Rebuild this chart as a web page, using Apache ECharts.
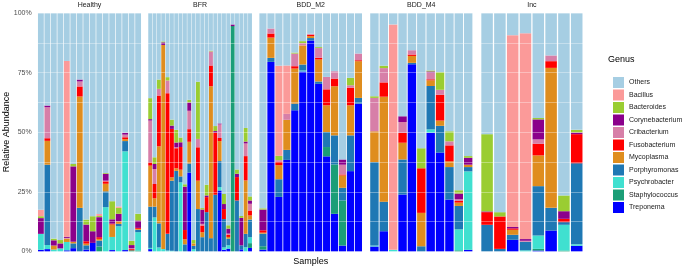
<!DOCTYPE html>
<html>
<head>
<meta charset="utf-8">
<script src="https://cdn.jsdelivr.net/npm/echarts@6/dist/echarts.min.js"></script>
<style>
  html, body { margin: 0; padding: 0; background: #fff; }
  #chart { width: 685px; height: 269px; }
</style>
</head>
<body>
<div id="chart"></div>
<script>
// facet names and genus order (legend order, top of stack first)
const facets = ['Healthy', 'BFR', 'BDD_M2', 'BDD_M4', 'Inc'];
const genera = ['Others', 'Bacillus', 'Bacteroides', 'Corynebacterium', 'Cribacterium',
  'Fusobacterium', 'Mycoplasma', 'Porphyromonas', 'Psychrobacter', 'Staphylococcus', 'Treponema'];
const yTicks = [0, 25, 50, 75, 100];

// relative abundance (%) per sample, one inner array per facet
const bacillus = [
  [2.7, 0, 0, 0, 73.7, 0, 0, 0, 0, 0.8, 0, 0, 0.6, 0, 0, 0],
  [0, 0, 0, 0, 0, 0, 0, 0, 0, 0, 0, 0, 0, 0, 0, 0, 0, 0, 0, 0, 0, 0, 0, 0],
  [0, 0, 37.8, 20.3, 0, 0, 0, 0, 0, 0, 0, 0, 0],
  [0, 0, 94.5, 0, 0, 0, 0, 0, 0, 0, 0],
  [0, 0, 80.4, 86.3, 0, 0, 0, 0]
];
const bacteroides = [
  [0.8, 0, 0.7, 1.4, 0, 1, 0, 2.1, 6.3, 0.5, 0.3, 7.6, 2.5, 0, 1.8, 2.8],
  [8.8, 2.8, 3.9, 0.4, 1.4, 2.5, 5.3, 2, 1, 1.1, 1.4, 24, 0.6, 4.5, 0.3, 2.1, 0, 4.2, 1.4, 0, 1.8, 0.8, 5.7, 1.7],
  [0.5, 0, 1.8, 0, 0.4, 0.8, 0, 0.4, 0, 0, 0, 3.1, 0],
  [0.7, 1, 0, 0, 0, 8.4, 0.4, 7.4, 4.2, 1.4, 0.7],
  [32.4, 1.8, 0, 0, 0.6, 0, 6.6, 1.1]
];
const corynebacterium = [
  [6.6, 0.7, 2.2, 2.1, 0.5, 31.6, 0.8, 7, 4.9, 8.4, 2.9, 1.8, 3.1, 0.8, 1.3, 3.1],
  [0.6, 2.1, 0, 1.1, 0, 1.4, 2, 2, 18.2, 3.5, 0, 0, 6, 0.7, 0, 0.7, 0.4, 2.1, 2.1, 0.7, 1.4, 11.5, 0.8, 1.4],
  [8.7, 0, 0, 0, 0, 0, 0, 0, 0, 0, 2.2, 0, 0],
  [0, 0, 0, 2.4, 0, 0, 0.5, 0, 0, 2.4, 2.9],
  [0.3, 0, 0.6, 0.7, 8.4, 0, 3.2, 0.7]
];
const cribacterium = [
  [0, 13, 0, 0, 0.3, 0, 2.1, 0, 0, 0, 0.3, 0, 0, 1.1, 0.4, 0],
  [17.5, 6.3, 2.8, 0, 5.3, 0, 0.4, 0, 0, 7.7, 0, 3.5, 0.7, 0, 5.9, 0, 5.7, 0, 0.4, 0, 0, 0, 5.3, 2.8],
  [0, 2.1, 0.7, 2.5, 5.3, 1, 0.4, 4.1, 5.2, 3.1, 4.1, 1, 2.8],
  [14, 6, 0, 4.6, 1.8, 0, 2.8, 2.1, 1.7, 0.7, 0],
  [0, 0, 0, 0.4, 1.8, 2.4, 0, 0]
];
const fusobacterium = [
  [0, 1.1, 0, 0, 0, 0, 4.2, 1, 0, 0.7, 1, 0.4, 0, 0.8, 0.5, 0.4],
  [1.4, 6, 21.3, 0, 59, 20.3, 8.4, 9.5, 3.9, 5.3, 0, 14, 2.8, 6.3, 8.7, 26, 1.3, 4.2, 1, 0, 9.8, 0, 10.2, 2.1],
  [1, 1.7, 1.4, 0, 1, 0, 0.6, 0.7, 6.7, 3.2, 0.4, 7.4, 0.4],
  [0, 6, 0, 4.1, 0.6, 18.7, 0.4, 10.8, 6.7, 0.7, 0],
  [5.3, 13.6, 0.6, 0, 4.9, 2.8, 1.4, 12.2]
];
const mycoplasma = [
  [0, 10, 1.7, 0, 1.4, 0.7, 46.7, 0.7, 0, 0.7, 3.2, 5.2, 1.1, 0.8, 0, 0.4],
  [17.2, 3.5, 32.3, 85.6, 0, 1.4, 1.1, 2.8, 2.1, 9.1, 1, 11.9, 2.1, 0, 63.7, 0, 8.4, 0, 0.7, 0, 0, 0, 22.4, 1.7],
  [0.4, 8.5, 5.9, 12.6, 14.7, 8, 0.8, 9.2, 11.2, 20.6, 5.2, 12.6, 15.4],
  [12.9, 44, 0, 7, 2.9, 14, 2.4, 2.2, 2.4, 1.4, 1],
  [0, 0, 2.1, 0, 12.9, 58.7, 0, 0]
];
const porphyromonas = [
  [0, 33.7, 0, 0, 0, 2, 18.3, 1.8, 0, 2.5, 6.6, 0, 1, 4.3, 0, 1],
  [17.3, 4.5, 10.1, 0, 7, 29.4, 33.8, 2.5, 3, 3.8, 1.4, 17.8, 6, 16.5, 5.6, 23.8, 10.9, 11.9, 2.8, 0, 21.4, 1.7, 5.6, 7.4],
  [5.3, 1.7, 7.4, 4.2, 2.8, 2.5, 1, 1, 6.3, 12.2, 5.3, 15, 2.4],
  [35, 12.4, 0, 14.7, 0.6, 2.2, 18.2, 11.2, 13.6, 9.8, 1.8],
  [11.2, 1.1, 2.1, 3.6, 20.7, 9.5, 1.1, 34]
];
const psychrobacter = [
  [6.7, 1.7, 0.8, 1.3, 3.5, 0, 0, 0, 0, 0, 18.6, 5.5, 10.6, 41.4, 0, 7.7],
  [0.5, 14.3, 1.7, 1, 0.4, 0.3, 0, 29, 0, 0, 1, 0, 0, 0, 0, 0, 1.4, 1, 1.4, 0, 0, 0, 1.8, 2.5],
  [0, 0, 0, 0, 0, 0.4, 0, 0, 0, 0, 0, 0, 0],
  [0.4, 0, 0.7, 0, 0, 0, 1.4, 0, 0, 8.8, 32.9],
  [0, 0, 0, 0.5, 5.6, 0, 10.8, 0.6]
];
const staphylococcus = [
  [0, 0, 0, 0, 0, 0, 0, 0, 0, 2.1, 0, 0, 0, 0, 0.5, 0.4],
  [0, 0, 0, 0, 0, 0, 0, 0, 0, 0, 0, 0, 0, 0, 0, 0, 0, 0, 0, 94.5, 0, 0, 0, 2],
  [1.4, 0, 0, 0, 0, 0, 0, 0, 3.9, 20.7, 18.9, 0, 0],
  [0, 0, 0, 0, 0, 0, 0, 0, 0, 0.5, 0],
  [0, 0, 0, 0, 0.7, 0, 0.4, 0]
];
const treponema = [
  [0.7, 1, 0, 0, 0.5, 1.4, 0, 0.8, 3.6, 0, 0, 0.6, 0, 0.6, 0, 0],
  [1, 0, 0, 0, 0, 0, 0, 0, 0, 33.1, 0, 0, 0, 0, 0, 0, 25.6, 0.7, 1.2, 0, 0, 0.9, 0, 1.5],
  [0.8, 79.5, 22.9, 38.4, 59.2, 75.5, 88.5, 70.3, 39.9, 15.8, 2.5, 33.7, 62],
  [2.1, 8.5, 0, 23.9, 78.5, 0, 49.8, 41.5, 21.8, 0, 0.7],
  [0, 0, 4.9, 0, 0.4, 8.8, 0, 2.4]
];

const genusData = {
  Bacillus: bacillus, Bacteroides: bacteroides, Corynebacterium: corynebacterium,
  Cribacterium: cribacterium, Fusobacterium: fusobacterium, Mycoplasma: mycoplasma,
  Porphyromonas: porphyromonas, Psychrobacter: psychrobacter,
  Staphylococcus: staphylococcus, Treponema: treponema
};
const colors = {
  Others: '#A6CEE3', Bacillus: '#FB9A99', Bacteroides: '#9ACD32', Corynebacterium: '#8B008B',
  Cribacterium: '#D77FA8', Fusobacterium: '#FF0000', Mycoplasma: '#DF8D1E',
  Porphyromonas: '#1F78B4', Psychrobacter: '#40E0D0', Staphylococcus: '#1B9E77', Treponema: '#0000FF'
};

// "Others" is whatever is left up to 100%
const others = facets.map((f, i) => treponema[i].map((_, j) => {
  let s = 0;
  Object.keys(genusData).forEach(g => { s += genusData[g][i][j]; });
  return Math.max(0, +(100 - s).toFixed(2));
}));
genusData.Others = others;

const font = 'Liberation Sans, Arial, sans-serif';
const panelW = 105, panelStep = 110.6, firstLeft = 37;
const plotTop = 13, plotH = 238.5;

const grids = [], xAxes = [], yAxes = [], series = [], texts = [];
facets.forEach((name, i) => {
  const n = treponema[i].length;
  const unit = panelW / (n + 0.2);
  const pl = firstLeft + i * panelStep;
  grids.push({left: pl + 0.1 * unit, top: plotTop, width: n * unit, height: plotH});
  xAxes.push({
    type: 'category', gridIndex: i, data: treponema[i].map((_, j) => name + '_' + (j + 1)),
    axisLine: {show: false}, axisTick: {show: false}, axisLabel: {show: false}
  });
  yAxes.push({
    type: 'value', gridIndex: i, min: 0, max: 100, interval: 12.5, z: 5,
    axisLine: {show: false}, axisTick: {show: false},
    axisLabel: {
      show: i === 0, margin: 6, fontSize: 7, color: '#4d4d4d', fontFamily: font,
      formatter: v => yTicks.indexOf(v) >= 0 ? v + '%' : ''
    },
    splitLine: {lineStyle: {color: 'rgba(255,255,255,0.35)', width: 1}}
  });
  // bottom of stack first
  genera.slice().reverse().forEach(g => {
    series.push({
      type: 'bar', name: g, xAxisIndex: i, yAxisIndex: i, stack: 'f' + i,
      barCategoryGap: '10%', data: genusData[g][i],
      itemStyle: {color: colors[g]}, emphasis: {disabled: true}, silent: true
    });
  });
  texts.push({
    type: 'text', x: pl + panelW / 2, y: 5,
    style: {text: name, fontSize: 7, fill: '#1a1a1a', fontFamily: font, align: 'center', verticalAlign: 'middle'}
  });
});

texts.push({
  type: 'text', x: firstLeft + (4 * panelStep + panelW) / 2, y: 262,
  style: {text: 'Samples', fontSize: 9, fill: '#000', fontFamily: font, align: 'center', verticalAlign: 'middle'}
});
texts.push({
  type: 'text', x: 7, y: 132, rotation: Math.PI / 2,
  style: {text: 'Relative Abundance', fontSize: 9, fill: '#000', fontFamily: font, align: 'center', verticalAlign: 'middle'}
});
texts.push({
  type: 'text', x: 608, y: 60,
  style: {text: 'Genus', fontSize: 9, fill: '#000', fontFamily: font, align: 'left', verticalAlign: 'middle'}
});

const chart = echarts.init(document.getElementById('chart'));
chart.setOption({
  animation: false,
  backgroundColor: '#fff',
  grid: grids,
  xAxis: xAxes,
  yAxis: yAxes,
  legend: {
    data: genera, orient: 'vertical', left: 608, top: 72,
    itemWidth: 11, itemHeight: 11, itemGap: 1.5, icon: 'rect', selectedMode: false,
    textStyle: {fontSize: 7, color: '#1a1a1a', fontFamily: font}
  },
  graphic: texts,
  series: series
});
</script>
</body>
</html>
